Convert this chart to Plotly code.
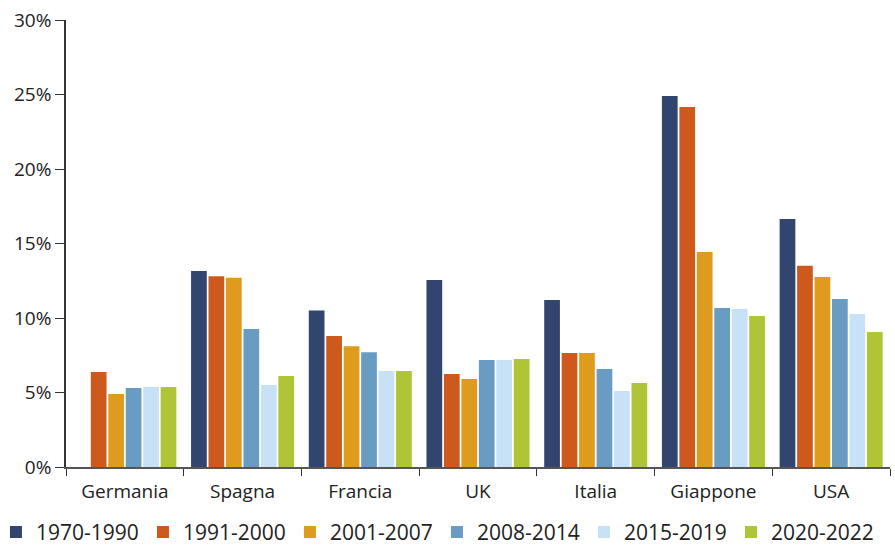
import plotly.graph_objects as go

countries = ["Germania", "Spagna", "Francia", "UK", "Italia", "Giappone", "USA"]
periods = ["1970-1990", "1991-2000", "2001-2007", "2008-2014", "2015-2019", "2020-2022"]
colors = ["#31456E", "#CD5A1C", "#DF9B1E", "#699CC2", "#C7E2F7", "#AFC436"]

v1970_1990 = [None, 13.15, 10.5, 12.55, 11.2, 24.9, 16.64]
v1991_2000 = [6.38, 12.8, 8.8, 6.24, 7.65, 24.16, 13.5]
v2001_2007 = [4.9, 12.7, 8.1, 5.9, 7.65, 14.43, 12.75]
v2008_2014 = [5.3, 9.26, 7.7, 7.18, 6.58, 10.67, 11.27]
v2015_2019 = [5.37, 5.5, 6.44, 7.18, 5.1, 10.6, 10.27]
v2020_2022 = [5.37, 6.1, 6.44, 7.25, 5.64, 10.13, 9.06]

series = [v1970_1990, v1991_2000, v2001_2007, v2008_2014, v2015_2019, v2020_2022]
y_ticks = [0, 5, 10, 15, 20, 25, 30]

fig = go.Figure()
for name, vals, col in zip(periods, series, colors):
    fig.add_trace(go.Bar(x=countries, y=vals, name=name, marker=dict(color=col, line=dict(width=0))))

FONT = "Open Sans, sans-serif"
fig.update_layout(
    width=895, height=545,
    margin=dict(l=66, r=5, t=20, b=78, autoexpand=False),
    paper_bgcolor="white", plot_bgcolor="white",
    barmode="group", bargap=0.11, bargroupgap=0.1,
    font=dict(family=FONT, size=19, color="#222222"),
    showlegend=True,
    legend=dict(orientation="h", x=-0.085, xanchor="left", xref="paper",
                y=-0.146, yanchor="middle", yref="paper",
                font=dict(size=21, color="#222222"), entrywidth=102, entrywidthmode="pixels",
                itemwidth=30, tracegroupgap=0),
)
fig.update_xaxes(
    showline=True, linecolor="#555555", linewidth=1.5,
    ticks="outside", tickson="boundaries", ticklen=7, tickcolor="#333333",
    tickfont=dict(size=19, color="#222222"), showgrid=False, ticklabelstandoff=6,
)
fig.update_yaxes(
    range=[0, 30], tickvals=y_ticks, ticktext=[f"{t}%" for t in y_ticks],
    showline=True, linecolor="#333333", linewidth=1.5,
    ticks="outside", ticklen=9, tickcolor="#333333",
    tickfont=dict(size=19, color="#222222"), showgrid=False, zeroline=False,
)
fig.write_html("out.html")
